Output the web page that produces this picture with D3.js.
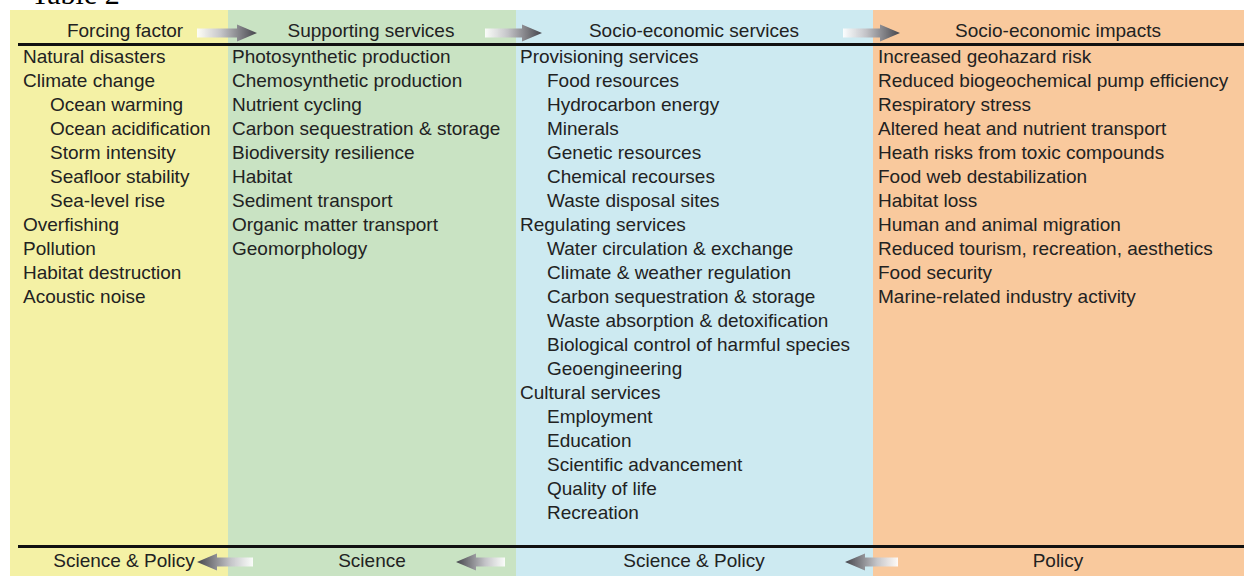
<!DOCTYPE html>
<html>
<head>
<meta charset="utf-8">
<script src="https://cdn.jsdelivr.net/npm/d3@7"></script>
<style>
  body { margin: 0; background: #fff; }
  text { font-family: "Liberation Sans", Arial, sans-serif; fill: #222; }
</style>
</head>
<body>
<script>
var width = 1244,
    height = 576;

// column content, [text, indent level]
var headers = ["Forcing factor", "Supporting services", "Socio-economic services", "Socio-economic impacts"];
var footers = ["Science & Policy", "Science", "Science & Policy", "Policy"];

var forcing = [
  ["Natural disasters", 0], ["Climate change", 0], ["Ocean warming", 1],
  ["Ocean acidification", 1], ["Storm intensity", 1], ["Seafloor stability", 1],
  ["Sea-level rise", 1], ["Overfishing", 0], ["Pollution", 0],
  ["Habitat destruction", 0], ["Acoustic noise", 0]
];
var supporting = [
  ["Photosynthetic production", 0], ["Chemosynthetic production", 0], ["Nutrient cycling", 0],
  ["Carbon sequestration & storage", 0], ["Biodiversity resilience", 0], ["Habitat", 0],
  ["Sediment transport", 0], ["Organic matter transport", 0], ["Geomorphology", 0]
];
var socioServices = [
  ["Provisioning services", 0], ["Food resources", 1], ["Hydrocarbon energy", 1],
  ["Minerals", 1], ["Genetic resources", 1], ["Chemical recourses", 1],
  ["Waste disposal sites", 1], ["Regulating services", 0], ["Water circulation & exchange", 1],
  ["Climate & weather regulation", 1], ["Carbon sequestration & storage", 1],
  ["Waste absorption & detoxification", 1], ["Biological control of harmful species", 1],
  ["Geoengineering", 1], ["Cultural services", 0], ["Employment", 1], ["Education", 1],
  ["Scientific advancement", 1], ["Quality of life", 1], ["Recreation", 1]
];
var impacts = [
  ["Increased geohazard risk", 0], ["Reduced biogeochemical pump efficiency", 0],
  ["Respiratory stress", 0], ["Altered heat and nutrient transport", 0],
  ["Heath risks from toxic compounds", 0], ["Food web destabilization", 0],
  ["Habitat loss", 0], ["Human and animal migration", 0],
  ["Reduced tourism, recreation, aesthetics", 0], ["Food security", 0],
  ["Marine-related industry activity", 0]
];
var columns = [forcing, supporting, socioServices, impacts];

var colors = ["#f4f1a5", "#c9e3c3", "#cdeaf1", "#f9c99d"];

// layout
var colEdges = [10, 228, 516, 873, 1244];
var textX = [23, 232, 520, 878];
var headerX = [125, 371, 694, 1058];
var footerX = [124, 372, 694, 1058];

var svg = d3.select("body").append("svg")
    .attr("width", width)
    .attr("height", height);

var defs = svg.append("defs");
var grad = defs.append("linearGradient")
    .attr("id", "arrowGrad")
    .attr("x1", "0%").attr("x2", "100%");
grad.append("stop").attr("offset", "0%").attr("stop-color", "#ffffff").attr("stop-opacity", 0.9);
grad.append("stop").attr("offset", "40%").attr("stop-color", "#c4c4c8");
grad.append("stop").attr("offset", "100%").attr("stop-color", "#45454b");

var gradL = defs.append("linearGradient")
    .attr("id", "arrowGradL")
    .attr("x1", "100%").attr("x2", "0%");
gradL.append("stop").attr("offset", "0%").attr("stop-color", "#ffffff").attr("stop-opacity", 0.9);
gradL.append("stop").attr("offset", "40%").attr("stop-color", "#c4c4c8");
gradL.append("stop").attr("offset", "100%").attr("stop-color", "#45454b");

var blur = defs.append("filter").attr("id", "soft");
blur.append("feGaussianBlur").attr("stdDeviation", 0.6);

// title, cut off at the top as in the scan
svg.append("text")
    .attr("x", 31)
    .attr("y", 4)
    .style("font-family", "'Liberation Serif', 'Times New Roman', serif")
    .style("font-size", "30px")
    .style("fill", "#000")
    .text("Table 2");

// column backgrounds
svg.selectAll("rect.col")
  .data(colors)
  .enter().append("rect")
    .attr("class", "col")
    .attr("x", function(d, i) { return colEdges[i]; })
    .attr("y", 10)
    .attr("width", function(d, i) { return colEdges[i + 1] - colEdges[i]; })
    .attr("height", height - 10)
    .style("fill", function(d) { return d; });

// rules
svg.selectAll("line.rule")
  .data([44.5, 546.5])
  .enter().append("line")
    .attr("x1", 18).attr("x2", width)
    .attr("y1", function(d) { return d; })
    .attr("y2", function(d) { return d; })
    .style("stroke", "#111")
    .style("stroke-width", 3);

// headers & footers
svg.selectAll("text.head")
  .data(headers)
  .enter().append("text")
    .attr("class", "head")
    .attr("x", function(d, i) { return headerX[i]; })
    .attr("y", 37)
    .attr("text-anchor", "middle")
    .style("font-size", "19px")
    .text(function(d) { return d; });

svg.selectAll("text.foot")
  .data(footers)
  .enter().append("text")
    .attr("class", "foot")
    .attr("x", function(d, i) { return footerX[i]; })
    .attr("y", 567)
    .attr("text-anchor", "middle")
    .style("font-size", "19px")
    .text(function(d) { return d; });

// arrows: right-pointing on top, left-pointing at bottom
var topArrows = [[197, 257], [485, 542], [843, 900]];
var bottomArrows = [[253, 197], [505, 456], [898, 845]];

function arrowPath(a, cy) {
  var tail = a[0], tip = a[1], dir = tip > tail ? 1 : -1;
  var headLen = 20 * dir;
  var neck = tip - headLen;
  return "M" + tail + "," + (cy - 4.5) +
         "L" + neck + "," + (cy - 4.5) +
         "L" + neck + "," + (cy - 8.5) +
         "L" + tip + "," + cy +
         "L" + neck + "," + (cy + 8.5) +
         "L" + neck + "," + (cy + 4.5) +
         "L" + tail + "," + (cy + 4.5) + "Z";
}

svg.selectAll("path.tarrow")
  .data(topArrows)
  .enter().append("path")
    .attr("d", function(d) { return arrowPath(d, 33); })
    .attr("filter", "url(#soft)")
    .style("fill", "url(#arrowGrad)");

svg.selectAll("path.barrow")
  .data(bottomArrows)
  .enter().append("path")
    .attr("d", function(d) { return arrowPath(d, 562); })
    .attr("filter", "url(#soft)")
    .style("fill", "url(#arrowGradL)");

// rows
var y = d3.scaleLinear().domain([0, 1]).range([63, 87]);

columns.forEach(function(items, c) {
  svg.append("g")
    .selectAll("text")
    .data(items)
    .enter().append("text")
      .attr("x", function(d) { return textX[c] + d[1] * 27; })
      .attr("y", function(d, i) { return y(i); })
      .style("font-size", "19px")
      .text(function(d) { return d[0]; });
});
</script>
</body>
</html>
